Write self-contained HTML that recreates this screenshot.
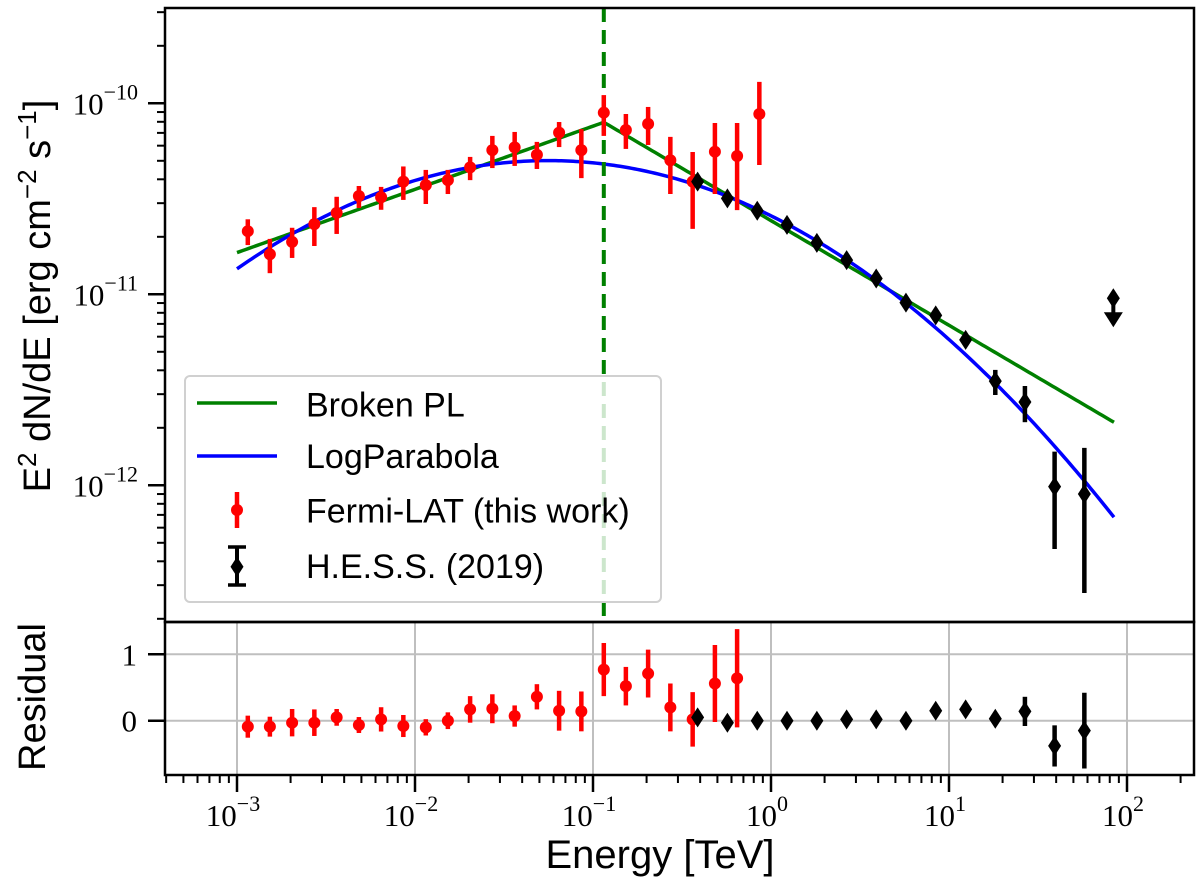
<!DOCTYPE html>
<html><head><meta charset="utf-8"><style>
html,body{margin:0;padding:0;background:#fff;}
svg{display:block;}
.tk{font-family:"Liberation Serif",serif;font-size:31px;fill:#000;}
.lab{font-family:"Liberation Sans",sans-serif;fill:#000;}
</style></head><body>
<svg id="chart" width="1200" height="885" viewBox="0 0 1200 885" xmlns="http://www.w3.org/2000/svg">
<g id="grid"></g>
<g id="curves"></g>
<g id="pts"></g>
<g id="axes"></g>
<g id="legend"></g>
<text class="lab" x="660" y="868" font-size="40" text-anchor="middle">Energy [TeV]</text>
<text class="lab" transform="translate(50,296) rotate(-90)" font-size="38" text-anchor="middle">E<tspan dy="-14" font-size="26">2</tspan><tspan dy="14"> dN/dE [erg cm</tspan><tspan dy="-14" font-size="26">−2</tspan><tspan dy="14"> s</tspan><tspan dy="-14" font-size="26">−1</tspan><tspan dy="14">]</tspan></text>
<text class="lab" transform="translate(45,697) rotate(-90)" font-size="38" text-anchor="middle">Residual</text>
</svg>
<script>
// ---- data ----
const fermiE = [0.00115,0.00153,0.00204,0.00272,0.00363,0.00484,0.00645,0.0086,0.0115,0.0153,0.0204,0.0272,0.0363,0.0484,0.0645,0.086,0.115,0.153,0.204,0.272,0.363,0.484,0.645,0.86];
// flux in units of 1e-11 erg cm^-2 s^-1
const fermiF  = [2.14,1.62,1.88,2.33,2.67,3.27,3.22,3.89,3.73,3.96,4.62,5.69,5.88,5.38,7.02,5.69,8.93,7.25,7.80,5.03,3.89,5.58,5.30,8.79];
const fermiLo = [1.81,1.29,1.55,1.79,2.07,2.83,2.77,3.12,2.97,3.35,3.96,4.58,4.70,4.53,5.90,4.06,6.75,5.77,6.05,3.35,2.20,3.35,2.76,4.75];
const fermiHi = [2.47,1.95,2.23,2.86,3.24,3.69,3.65,4.67,4.48,4.48,5.24,6.75,7.08,6.28,7.98,7.33,11.04,8.79,9.57,6.67,5.56,7.89,7.89,12.94];
const fermiRes = [-0.09,-0.09,-0.03,-0.03,0.05,-0.065,0.02,-0.08,-0.1,0.0,0.17,0.18,0.07,0.36,0.15,0.14,0.77,0.52,0.71,0.20,0.02,0.56,0.64];
const fermiResErr = [0.166,0.15,0.206,0.2,0.126,0.12,0.183,0.166,0.123,0.126,0.2,0.218,0.16,0.19,0.3,0.30,0.40,0.29,0.36,0.36,0.41,0.58,0.74];
const hessE = [0.387,0.569,0.837,1.23,1.81,2.66,3.90,5.73,8.42,12.4,18.2,26.7,39.2,57.6];
const hessF = [3.89,3.18,2.74,2.31,1.86,1.51,1.21,0.904,0.776,0.577,0.351,0.273,0.0984,0.090];
const hessLo = [3.74,3.05,2.63,2.22,1.79,1.45,1.16,0.868,0.745,0.552,0.297,0.214,0.0464,0.0273];
const hessHi = [4.05,3.31,2.85,2.40,1.93,1.57,1.26,0.940,0.807,0.602,0.402,0.331,0.150,0.157];
const hessRes = [0.05,-0.03,0.0,0.0,0.0,0.02,0.02,0.0,0.15,0.17,0.03,0.14,-0.38,-0.15];
const hessResErr = [0.03,0.03,0.03,0.03,0.03,0.03,0.03,0.03,0.03,0.03,0.05,0.22,0.31,0.57];
const hessUL_E = [83.8];
const hessUL_F = [0.953];
// model parameters (log10 space, flux in 1e-11 units)
const bplBreakE = 0.115, bplBreakLogF = 0.9005, bplSlope1 = 0.331, bplSlope2 = -0.548;
const lpPeakLogE = -1.25, lpPeakLogF = 0.70, lpCurv = 0.185;
const modelEmin = 0.001, modelEmax = 84.5;
const xTickExp = [-3,-2,-1,0,1,2];
const yTickExp = [-10,-11,-12];
const resTicks = [0,1];

// ---- geometry ----
const L=165, R=1194, T=8, MB=622, RB=775;
const X0=237, DEC=178;
const YA=103.3, YDEC=191;
const R0=720.7, RU=66.4;
const ns="http://www.w3.org/2000/svg";
const X = e => X0 + (Math.log10(e)+3)*DEC;
const Y = f => YA + (1 - Math.log10(f))*YDEC;
const YR = r => R0 - r*RU;
function mk(tag, attrs, parent){const el=document.createElementNS(ns,tag);for(const k in attrs)el.setAttribute(k,attrs[k]);parent.appendChild(el);return el;}
const svg=document.getElementById('chart');
const gGrid=document.getElementById('grid'), gC=document.getElementById('curves'), gP=document.getElementById('pts'), gA=document.getElementById('axes'), gL=document.getElementById('legend');

const defs=mk('defs',{},svg);
const c1=mk('clipPath',{id:'cm'},defs); mk('rect',{x:L,y:T,width:R-L,height:MB-T},c1);
const c2=mk('clipPath',{id:'cr'},defs); mk('rect',{x:L,y:MB,width:R-L,height:RB-MB},c2);
gC.setAttribute('clip-path','url(#cm)');

xTickExp.forEach(p=>{const x=X(Math.pow(10,p)); if(x>L&&x<R){
  const g=mk('line',{x1:x,x2:x,y1:MB,y2:RB,stroke:'#bfbfbf','stroke-width':2},gGrid);
  
  }});
resTicks.forEach(r=>{const g=mk('line',{x1:L,x2:R,y1:YR(r),y2:YR(r),stroke:'#bfbfbf','stroke-width':2},gGrid);
  
  });

function bpl(e){const x=Math.log10(e), xb=Math.log10(bplBreakE);return bplBreakLogF+(x<xb?bplSlope1:bplSlope2)*(x-xb);}
function lp(e){const x=Math.log10(e);return lpPeakLogF-lpCurv*(x-lpPeakLogE)*(x-lpPeakLogE);}
function curve(fn,color,name){let d='';const a=Math.log10(modelEmin),b=Math.log10(modelEmax);
  const ex=[];for(let i=0;i<=300;i++)ex.push(a+(b-a)*i/300);
  const xb=Math.log10(bplBreakE); ex.push(xb); ex.sort((p,q)=>p-q);
  ex.forEach((x,i)=>{const e=Math.pow(10,x);d+=(i?'L':'M')+X(e).toFixed(2)+' '+Y(Math.pow(10,fn(e))).toFixed(2);});
  const p=mk('path',{d:d,fill:'none',stroke:color,'stroke-width':3.5},gC);
  
  }
curve(bpl,'#008000','broken-pl-curve');
curve(lp,'#0000ff','logparabola-curve');

const bx=X(bplBreakE);
const vl=mk('line',{x1:bx,x2:bx,y1:T,y2:MB,stroke:'#008000','stroke-width':4,'stroke-dasharray':'14 8'},gC);



function errbar(x,y1,y2,color,w,parent){return mk('line',{x1:x,x2:x,y1:y1,y2:y2,stroke:color,'stroke-width':w},parent);}
function diamond(x,y,parent){return mk('path',{d:`M${x} ${y-10}L${x+6.5} ${y}L${x} ${y+10}L${x-6.5} ${y}Z`,fill:'#000'},parent);}
const gm=mk('g',{'clip-path':'url(#cm)'},gP);
const gr=mk('g',{'clip-path':'url(#cr)'},gP);
fermiE.forEach((e,i)=>{const x=X(e);
  const b=errbar(x,Y(fermiLo[i]),Y(fermiHi[i]),'#ff0000',4.5,gm);
  
  
  const c=mk('circle',{cx:x,cy:Y(fermiF[i]),r:6,fill:'#ff0000'},gm);
  
  });
hessE.forEach((e,i)=>{const x=X(e);
  const b=errbar(x,Y(hessLo[i]),Y(hessHi[i]),'#000',4.5,gm);
  
  
  const d=diamond(x,Y(hessF[i]),gm);
  
  });
hessUL_E.forEach((e,i)=>{const x=X(e),y=Y(hessUL_F[i]);
  const d=diamond(x,y,gm);
  
  
  const s=errbar(x,y,y+22,'#000',4,gm);
  
  
  const a=mk('path',{d:`M${x-9.5} ${y+14}L${x+9.5} ${y+14}L${x} ${y+29}Z`,fill:'#000'},gm);
  
  });
fermiRes.forEach((r,i)=>{const x=X(fermiE[i]);
  const b=errbar(x,YR(r-fermiResErr[i]),YR(r+fermiResErr[i]),'#ff0000',4.5,gr);
  
  
  const c=mk('circle',{cx:x,cy:YR(r),r:6,fill:'#ff0000'},gr);
  
  });
hessRes.forEach((r,i)=>{const x=X(hessE[i]);
  const b=errbar(x,YR(r-hessResErr[i]),YR(r+hessResErr[i]),'#000',4.5,gr);
  
  
  const d=diamond(x,YR(r),gr);
  
  });

[[T,MB],[MB,RB]].forEach(([a,b])=>{const f=mk('rect',{x:L,y:a,width:R-L,height:b-a,fill:'none',stroke:'#000','stroke-width':2.5},gA);
  
  });
for(let p=-4;p<=2;p++){for(let m=1;m<10;m++){const x=X(m*Math.pow(10,p)); if(x<L-0.5||x>R+0.5)continue;
  mk('line',{x1:x,x2:x,y1:RB,y2:RB+(m===1?17:8),stroke:'#000','stroke-width':m===1?2.5:2},gA);}}
xTickExp.forEach(p=>{const x=X(Math.pow(10,p));
  const t=mk('text',{x:x-4,y:826,'text-anchor':'middle',class:'tk'},gA);
  
  
  t.innerHTML=`10<tspan dy="-15" font-size="22">${p<0?'−':''}${Math.abs(p)}</tspan>`;});
for(let p=-13;p<=-9;p++){for(let m=1;m<10;m++){const y=Y(m*Math.pow(10,p+11)); if(y<T-0.5||y>MB+0.5)continue;
  mk('line',{x1:L,x2:L-(m===1?17:8),y1:y,y2:y,stroke:'#000','stroke-width':m===1?2.5:2},gA);}}
yTickExp.forEach(p=>{const y=Y(Math.pow(10,p+11));
  const t=mk('text',{x:138,y:y+11,'text-anchor':'end',class:'tk'},gA);
  
  
  t.innerHTML=`10<tspan dy="-15" font-size="22">−${Math.abs(p)}</tspan>`;});
resTicks.forEach(r=>{const y=YR(r);
  mk('line',{x1:L,x2:L-17,y1:y,y2:y,stroke:'#000','stroke-width':2.5},gA);
  const t=mk('text',{x:137,y:y+11,'text-anchor':'end',class:'tk'},gA);
  
  
  t.textContent=String(r);});

const lb=mk('rect',{x:185,y:376,width:476,height:226,rx:5,fill:'#fff','fill-opacity':0.8,stroke:'#d0d0d0','stroke-width':2},gL);


const labels=['Broken PL','LogParabola','Fermi-LAT (this work)','H.E.S.S. (2019)'];
const base=[416.7,468,522.7,578];
labels.forEach((s,i)=>{const t=mk('text',{x:306,y:base[i],class:'lab','font-size':34},gL);
  
  
  t.textContent=s;});
mk('line',{x1:197,x2:277,y1:403,y2:403,stroke:'#008000','stroke-width':3.5},gL);
mk('line',{x1:197,x2:277,y1:456,y2:456,stroke:'#0000ff','stroke-width':3.5},gL);
errbar(237,492,528,'#ff0000',4.5,gL); mk('circle',{cx:237,cy:510,r:6,fill:'#ff0000'},gL);
errbar(237,547,585,'#000',4,gL);
mk('line',{x1:228,x2:246,y1:547,y2:547,stroke:'#000','stroke-width':3.5},gL);
mk('line',{x1:228,x2:246,y1:585,y2:585,stroke:'#000','stroke-width':3.5},gL);
diamond(237,566.7,gL);
</script>
</body></html>
